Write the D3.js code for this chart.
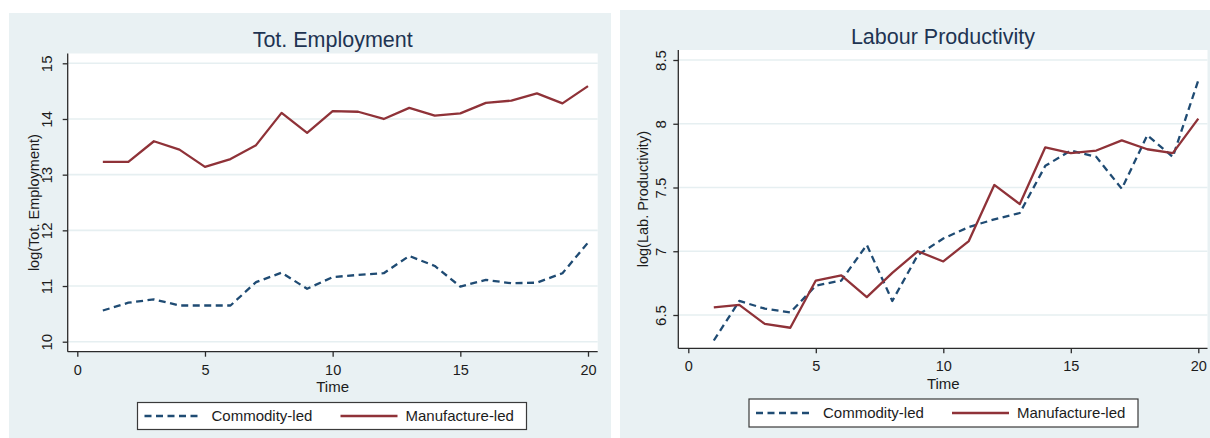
<!DOCTYPE html>
<html>
<head>
<meta charset="utf-8">
<script src="https://cdn.jsdelivr.net/npm/d3@7"></script>
<style>
  html, body { margin: 0; padding: 0; background: #ffffff; }
  svg { display: block; font-family: "Liberation Sans", Arial, sans-serif; }
</style>
</head>
<body>
<svg id="chart" width="1210" height="438"></svg>
<script>
// ---- data -------------------------------------------------------------
const time = [1, 2, 3, 4, 5, 6, 7, 8, 9, 10, 11, 12, 13, 14, 15, 16, 17, 18, 19, 20];

const employmentCommodity = [10.56, 10.70, 10.76, 10.65, 10.65, 10.65, 11.07, 11.24, 10.95, 11.16,
                             11.20, 11.23, 11.54, 11.36, 10.99, 11.11, 11.05, 11.06, 11.23, 11.78];
const employmentManufacture = [13.23, 13.23, 13.60, 13.45, 13.14, 13.28, 13.53, 14.11, 13.75, 14.14,
                               14.13, 14.00, 14.20, 14.06, 14.10, 14.29, 14.33, 14.46, 14.28, 14.59];

const productivityCommodity = [6.30, 6.61, 6.55, 6.52, 6.73, 6.77, 7.05, 6.61, 6.97, 7.10,
                               7.19, 7.25, 7.30, 7.67, 7.79, 7.74, 7.49, 7.91, 7.74, 8.34];
const productivityManufacture = [6.56, 6.58, 6.43, 6.40, 6.77, 6.81, 6.64, 6.83, 7.00, 6.92,
                                 7.08, 7.52, 7.37, 7.815, 7.77, 7.79, 7.87, 7.80, 7.77, 8.04];

const xTicks = [0, 5, 10, 15, 20];
const employmentTicks = [10, 11, 12, 13, 14, 15];
const productivityTicks = [6.5, 7, 7.5, 8, 8.5];
const productivityTickLabels = ["6.5", "7", "7.5", "8", "8.5"];

const seriesNames = ["Commodity-led", "Manufacture-led"];

// ---- styling ----------------------------------------------------------
const BG = "#e9f1f3";
const GRID = "#e6eff1";
const NAVY = "#1f4b73";
const MAROON = "#8f3238";
const AXIS = "#2b2b2b";
const TEXT = "#1c1c1c";
const TITLE = "#1e3452";
const DASH = "7,4.5";

const svg = d3.select("#chart");

function drawPanel(p) {
  const g = svg.append("g");

  // panel background
  g.append("rect")
    .attr("x", p.bg[0]).attr("y", p.bg[1])
    .attr("width", p.bg[2]).attr("height", p.bg[3])
    .attr("fill", BG);

  // plot region
  g.append("rect")
    .attr("x", p.plot.left).attr("y", p.plot.top)
    .attr("width", p.plot.right - p.plot.left)
    .attr("height", p.plot.bottom - p.plot.top)
    .attr("fill", "#ffffff");

  const x = d3.scaleLinear().domain([0, 20]).range(p.xRange);
  const y = d3.scaleLinear().domain(p.yDomain).range(p.yRange);

  // horizontal grid lines
  g.append("g").selectAll("line")
    .data(p.yTicks)
    .join("line")
    .attr("x1", p.plot.left).attr("x2", p.plot.right)
    .attr("y1", d => y(d)).attr("y2", d => y(d))
    .attr("stroke", GRID).attr("stroke-width", 1.6);

  // y axis
  const yAxis = g.append("g")
    .attr("transform", `translate(${p.plot.left},0)`)
    .call(d3.axisLeft(y).tickValues(p.yTicks).tickSize(5).tickSizeOuter(0)
      .tickFormat((d, i) => p.yLabels[i]));
  yAxis.select(".domain").remove();
  yAxis.append("line")
    .attr("x1", 0).attr("x2", 0)
    .attr("y1", p.plot.top).attr("y2", p.plot.bottom)
    .attr("stroke", AXIS).attr("stroke-width", 1.3);
  yAxis.selectAll(".tick line").attr("stroke", AXIS).attr("stroke-width", 1.3);
  yAxis.selectAll(".tick text")
    .attr("x", null).attr("dy", "0.35em")
    .attr("text-anchor", "middle")
    .attr("transform", `translate(${-p.yLabelOffset},0) rotate(-90)`)
    .attr("fill", TEXT)
    .style("font-size", "15px")
    .style("font-family", "'Liberation Sans', Arial, sans-serif");

  // x axis
  const xAxis = g.append("g")
    .attr("transform", `translate(0,${p.plot.bottom})`)
    .call(d3.axisBottom(x).tickValues(xTicks).tickSize(5).tickSizeOuter(0));
  xAxis.select(".domain").remove();
  xAxis.append("line")
    .attr("x1", p.plot.left).attr("x2", p.plot.right)
    .attr("y1", 0).attr("y2", 0)
    .attr("stroke", AXIS).attr("stroke-width", 1.3);
  xAxis.selectAll(".tick line").attr("stroke", AXIS).attr("stroke-width", 1.3);
  xAxis.selectAll(".tick text")
    .attr("y", 18).attr("dy", "0.35em")
    .attr("fill", TEXT)
    .style("font-size", "14.5px")
    .style("font-family", "'Liberation Sans', Arial, sans-serif");

  // axis titles
  g.append("text")
    .attr("x", (p.xRange[0] + p.xRange[1]) / 2)
    .attr("y", p.plot.bottom + 35)
    .attr("dy", "0.35em")
    .attr("text-anchor", "middle")
    .attr("fill", TEXT)
    .style("font-size", "15px")
    .text("Time");

  g.append("text")
    .attr("transform", `translate(${p.plot.left - p.yTitleOffset},${(p.plot.top + p.plot.bottom) / 2}) rotate(-90)`)
    .attr("dy", "0.35em")
    .attr("text-anchor", "middle")
    .attr("fill", TEXT)
    .style("font-size", "14.5px")
    .text(p.yTitle);

  // panel title
  g.append("text")
    .attr("x", (p.plot.left + p.plot.right) / 2)
    .attr("y", p.titleY)
    .attr("dy", "0.35em")
    .attr("text-anchor", "middle")
    .attr("fill", TITLE)
    .style("font-size", "21.5px")
    .text(p.title);

  // series lines
  const line = d3.line().x((d, i) => x(time[i])).y(d => y(d));
  g.append("path")
    .attr("d", line(p.commodity))
    .attr("fill", "none").attr("stroke", NAVY)
    .attr("stroke-width", 2.3).attr("stroke-dasharray", DASH)
    .attr("stroke-linejoin", "round");
  g.append("path")
    .attr("d", line(p.manufacture))
    .attr("fill", "none").attr("stroke", MAROON)
    .attr("stroke-width", 2.3)
    .attr("stroke-linejoin", "round");

  // legend
  const L = p.legend;
  const lg = g.append("g").attr("transform", `translate(${L.x},${L.y})`);
  lg.append("rect")
    .attr("x", 0).attr("y", 0).attr("width", L.w).attr("height", L.h)
    .attr("fill", "#ffffff").attr("stroke", "#3a3a3a").attr("stroke-width", 1.2);
  const midY = L.h / 2;
  lg.append("line")
    .attr("x1", 7).attr("x2", 64).attr("y1", midY).attr("y2", midY)
    .attr("stroke", NAVY).attr("stroke-width", 2.3).attr("stroke-dasharray", DASH);
  lg.append("text")
    .attr("x", 74).attr("y", midY).attr("dy", "0.35em")
    .attr("fill", TEXT).style("font-size", "15px")
    .text(seriesNames[0]);
  lg.append("line")
    .attr("x1", 203).attr("x2", 260).attr("y1", midY).attr("y2", midY)
    .attr("stroke", MAROON).attr("stroke-width", 2.3);
  lg.append("text")
    .attr("x", 268).attr("y", midY).attr("dy", "0.35em")
    .attr("fill", TEXT).style("font-size", "15px")
    .text(seriesNames[1]);
}

drawPanel({
  bg: [9, 13, 602, 425],
  plot: { left: 67.7, right: 597.7, top: 53.5, bottom: 351.7 },
  xRange: [77.3, 588],
  yDomain: [10, 15],
  yRange: [341.7, 63.3],
  yTicks: employmentTicks,
  yLabels: employmentTicks.map(String),
  yLabelOffset: 21,
  yTitleOffset: 34,
  yTitle: "log(Tot. Employment)",
  title: "Tot. Employment",
  titleY: 39.5,
  commodity: employmentCommodity,
  manufacture: employmentManufacture,
  legend: { x: 137.5, y: 402.5, w: 389, h: 27 }
});

drawPanel({
  bg: [620, 10, 590, 428],
  plot: { left: 678.3, right: 1207.5, top: 50, bottom: 348.3 },
  xRange: [688.3, 1198.3],
  yDomain: [6.5, 8.5],
  yRange: [315, 60],
  yTicks: productivityTicks,
  yLabels: productivityTickLabels,
  yLabelOffset: 18,
  yTitleOffset: 35,
  yTitle: "log(Lab. Productivity)",
  title: "Labour Productivity",
  titleY: 36,
  commodity: productivityCommodity,
  manufacture: productivityManufacture,
  legend: { x: 749, y: 399, w: 389, h: 28 }
});
</script>
</body>
</html>
